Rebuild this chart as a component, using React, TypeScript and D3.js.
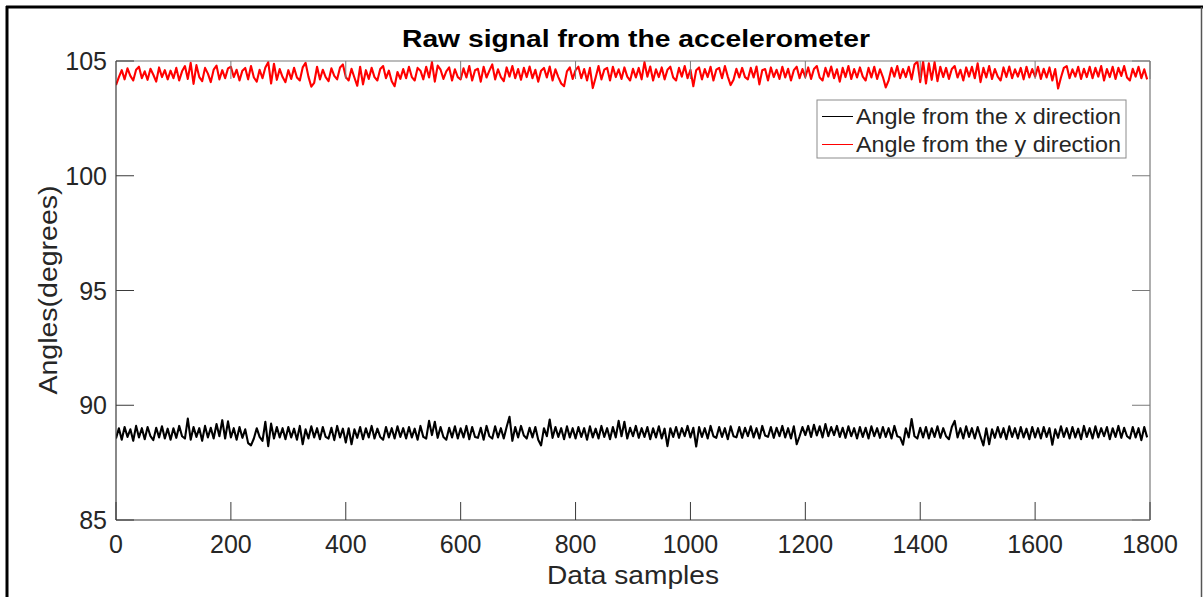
import React from "react";
import * as d3 from "d3";

const TITLE = "Raw signal from the accelerometer";
const X_LABEL = "Data samples";
const Y_LABEL = "Angles(degrees)";
const X_TICKS = [0, 200, 400, 600, 800, 1000, 1200, 1400, 1600, 1800];
const Y_TICKS = [85, 90, 95, 100, 105];
const SERIES_NAMES = ["Angle from the x direction", "Angle from the y direction"];
const SAMPLE_STEP = 5;

// Angle from the x direction (black), one value every 5 samples
const angleX = [
  88.55, 89.0, 88.5, 89.05, 88.62, 88.95, 88.45, 89.1, 88.6, 89.0, 88.52, 89.05, 88.65, 88.48, 89.02, 88.6, 89.08, 88.55, 88.98, 88.5,
  89.0, 88.58, 89.1, 88.65, 88.55, 89.42, 88.5, 89.05, 88.62, 89.0, 88.45, 89.1, 88.6, 89.02, 88.55, 89.18, 88.65, 89.35, 88.55, 89.3,
  88.6, 89.0, 88.5, 89.05, 88.58, 88.95, 88.35, 88.25, 88.55, 89.0, 88.62, 88.45, 89.28, 88.22, 89.2, 88.55, 89.05, 88.6, 89.0, 88.52,
  89.05, 88.6, 88.98, 88.5, 89.1, 88.3, 88.95, 88.55, 89.08, 88.6, 89.0, 88.52, 89.05, 88.62, 88.55, 89.02, 88.48, 89.1, 88.6, 88.98,
  88.38, 89.0, 88.3, 88.95, 88.58, 89.05, 88.52, 89.0, 88.6, 89.1, 88.55, 88.98, 88.62, 88.5, 89.05, 88.6, 89.0, 88.55, 89.08, 88.62,
  89.0, 88.55, 89.05, 88.6, 88.98, 88.5, 89.1, 88.62, 88.55, 89.32, 88.7, 89.28, 88.58, 89.05, 88.62, 88.5, 89.02, 88.6, 89.08, 88.55,
  89.0, 88.6, 89.1, 88.52, 89.05, 88.62, 88.58, 89.02, 88.5, 89.1, 88.65, 88.55, 89.08, 88.6, 89.0, 88.55, 89.05, 89.5, 88.45, 89.05,
  88.6, 89.1, 88.68, 88.55, 89.02, 88.6, 89.05, 88.5, 88.25, 89.0, 88.65, 89.38, 88.58, 89.05, 88.62, 89.0, 88.52, 89.08, 88.6, 89.0,
  88.55, 89.05, 88.62, 89.0, 88.5, 89.08, 88.6, 88.98, 88.55, 89.1, 88.62, 89.0, 88.52, 89.05, 88.6, 89.32, 88.65, 89.28, 88.55, 89.02,
  88.65, 89.1, 88.58, 89.0, 88.62, 89.05, 88.52, 89.0, 88.6, 89.08, 88.55, 88.98, 88.22, 89.0, 88.62, 89.05, 88.58, 89.0, 88.65, 89.1,
  88.6, 89.02, 88.2, 89.05, 88.62, 89.0, 88.55, 89.1, 88.65, 88.58, 89.05, 88.62, 89.0, 88.52, 89.08, 88.65, 88.6, 89.05, 88.58, 89.02,
  88.65, 89.08, 88.6, 89.0, 88.55, 89.1, 88.68, 88.62, 89.05, 88.58, 89.02, 88.65, 89.1, 88.6, 89.0, 88.55, 89.08, 88.3, 88.65, 89.05,
  88.7, 89.1, 88.62, 89.15, 88.68, 89.08, 88.6, 89.18, 88.65, 89.05, 88.7, 89.1, 88.62, 89.02, 88.58, 89.08, 88.65, 89.0, 88.55, 89.05,
  88.62, 89.02, 88.55, 89.08, 88.65, 89.0, 88.58, 89.05, 88.62, 89.0, 88.55, 89.1, 88.65, 88.6, 88.28, 89.0, 88.6, 89.4, 88.65, 88.55,
  89.02, 88.6, 89.05, 88.55, 89.0, 88.62, 89.08, 88.58, 89.0, 88.65, 88.52, 89.05, 89.32, 88.6, 89.0, 88.55, 89.08, 88.62, 89.0, 88.55,
  89.05, 88.62, 88.25, 89.0, 88.3, 88.95, 88.58, 89.05, 88.6, 89.0, 88.52, 89.08, 88.62, 89.0, 88.55, 89.05, 88.6, 88.98, 88.52, 89.05,
  88.6, 89.0, 88.55, 89.05, 88.62, 89.0, 88.28, 88.95, 88.58, 89.08, 88.62, 89.0, 88.55, 89.05, 88.6, 88.98, 88.52, 89.1, 88.62, 89.0,
  88.55, 89.08, 88.6, 89.0, 88.65, 89.05, 88.52, 89.0, 88.62, 89.1, 88.58, 89.02, 88.65, 88.55, 89.05, 88.6, 89.0, 88.48, 89.05, 88.6,
];

// Angle from the y direction (red), one value every 5 samples
const angleY = [
  103.95, 104.3, 104.6, 104.2, 104.68, 104.35, 104.15, 104.62, 104.75, 104.25, 104.55, 104.18, 104.66, 104.4, 104.1, 104.72, 104.3, 104.6, 104.2, 104.58,
  104.25, 104.7, 104.15, 104.55, 104.78, 104.22, 104.92, 104.0, 104.82, 104.3, 104.12, 104.7, 104.45, 104.08, 104.62, 104.8, 104.2, 104.6, 104.25, 104.68,
  104.75, 104.3, 104.62, 104.15, 104.58, 104.7, 104.2, 104.78, 104.28, 104.1, 104.62, 104.25, 104.72, 104.95, 104.02, 104.88, 104.18, 104.65, 104.3, 104.08,
  104.6, 104.22, 104.7, 104.28, 104.15, 104.72, 104.92, 104.32, 103.88, 104.05, 104.75, 104.2, 104.62, 104.3, 104.12, 104.68, 104.35, 104.2, 104.72, 104.85,
  104.3, 104.15, 104.66, 104.28, 103.92, 104.75, 103.98, 104.6, 104.22, 104.7, 104.3, 104.15, 104.65, 104.78, 104.25, 104.58, 104.12, 103.9, 104.52, 104.22,
  104.65, 104.25, 104.75, 104.3, 104.15, 104.7, 104.58, 104.2, 104.75, 104.28, 104.95, 104.1, 104.8, 104.62, 104.22, 104.55, 104.72, 104.15, 104.64, 104.3,
  104.2, 104.68, 104.28, 104.78, 104.15, 104.6, 104.66, 104.1, 104.75, 104.28, 104.58, 104.85, 104.2, 104.64, 104.3, 104.12, 104.72, 104.32, 104.78, 104.25,
  104.65, 104.18, 104.7, 104.3, 104.76, 104.25, 104.62, 104.1, 104.58, 104.7, 104.28, 104.76, 104.15, 104.64, 104.3, 104.02, 103.9, 104.55, 104.72, 104.22,
  104.6, 104.75, 104.25, 104.65, 104.15, 104.7, 103.82, 104.28, 104.78, 104.2, 104.62, 104.7, 104.15, 104.75, 104.3, 104.64, 104.22, 104.72, 104.32, 104.15,
  104.66, 104.28, 104.7, 104.2, 104.95, 104.32, 104.76, 104.15, 104.64, 104.3, 104.72, 104.2, 104.62, 104.75, 104.28, 104.15, 104.7, 104.32, 104.78, 104.25,
  104.62, 103.9, 104.6, 104.72, 104.2, 104.65, 104.3, 104.75, 104.15, 104.62, 104.7, 104.25, 104.78, 104.32, 103.95, 104.18, 104.66, 104.28, 104.7, 104.3,
  104.2, 104.7, 104.28, 104.76, 103.98, 104.6, 104.65, 104.15, 104.72, 104.3, 104.62, 104.22, 104.75, 104.28, 104.66, 104.15, 104.6, 104.75, 104.25, 104.65,
  104.3, 104.72, 104.22, 104.65, 104.78, 104.28, 104.15, 104.7, 104.32, 104.76, 104.25, 104.64, 104.1, 104.7, 104.3, 104.78, 104.22, 104.65, 104.28, 104.72,
  104.32, 104.15, 104.7, 104.28, 104.75, 104.22, 104.64, 104.3, 103.85, 104.15, 104.7, 104.32, 104.78, 104.25, 104.65, 104.3, 104.75, 104.2, 104.85, 104.98,
  104.08, 104.98, 104.02, 104.9, 104.18, 104.95, 104.12, 104.75, 104.3, 104.7, 104.22, 104.65, 104.78, 104.28, 104.62, 104.15, 104.72, 104.32, 104.75, 104.25,
  104.9, 104.08, 104.7, 104.28, 104.78, 104.22, 104.65, 104.32, 104.15, 104.72, 104.3, 104.76, 104.25, 104.64, 104.32, 104.7, 104.2, 104.75, 104.28, 104.65,
  104.32, 104.75, 104.22, 104.66, 104.28, 104.72, 104.15, 104.65, 103.8, 104.28, 104.7, 104.78, 104.25, 104.64, 104.32, 104.75, 104.22, 104.66, 104.3, 104.75,
  104.25, 104.7, 104.32, 104.78, 104.15, 104.65, 104.3, 104.75, 104.22, 104.7, 104.35, 104.78, 104.28, 104.15, 104.66, 104.32, 104.75, 104.25, 104.64, 104.2,
];

const SERIES = [
  { name: SERIES_NAMES[0], values: angleX, color: "#000000" },
  { name: SERIES_NAMES[1], values: angleY, color: "#ff0000" },
];

const FONT = "'Liberation Sans', Arial, Helvetica, sans-serif";
const TEXT = "#262626";
const AXIS_DARK = "#3a3a3a";
const AXIS_LIGHT = "#7a7a7a";

export default function App() {
  const W = 1203;
  const H = 597;
  const left = 116, right = 1150, top = 61, bottom = 520;
  const x = d3.scaleLinear().domain([0, 1800]).range([left, right]);
  const y = d3.scaleLinear().domain([85, 105]).range([bottom, top]);
  const line = d3
    .line<number>()
    .x((_, i) => x(i * SAMPLE_STEP))
    .y((d) => y(d));
  const tickLen = 18;

  const legendX = 817, legendY = 100, legendW = 309, legendH = 58;

  return (
    <div style={{ position: "absolute", left: 0, top: 0, width: W, height: H, background: "#fff" }}>
      <svg width={W} height={H} style={{ display: "block", fontFamily: FONT }}>
        <rect x={0} y={0} width={W} height={H} fill="#fff" />
        {/* outer frame */}
        <line x1={6} x2={W} y1={7} y2={7} stroke="#000" strokeWidth={3} />
        <line x1={7} x2={7} y1={6} y2={H} stroke="#000" strokeWidth={3} />
        <line x1={1201.5} x2={1201.5} y1={7} y2={H} stroke="#555" strokeWidth={1.5} />

        {/* title */}
        <text x={636} y={47} textAnchor="middle" fontSize={23} fontWeight="bold" fill="#000" textLength={468} lengthAdjust="spacingAndGlyphs">
          {TITLE}
        </text>

        <defs>
          <clipPath id="plotclip">
            <rect x={left} y={top} width={right - left} height={bottom - top} />
          </clipPath>
        </defs>

        {/* data lines */}
        <g clipPath="url(#plotclip)">
          {SERIES.map((s) => (
            <path key={s.name} d={line(s.values) || ""} fill="none" stroke={s.color} strokeWidth={2.1} strokeLinejoin="round" />
          ))}
        </g>

        {/* box */}
        <line x1={left} x2={right} y1={top} y2={top} stroke={AXIS_LIGHT} strokeWidth={1.2} />
        <line x1={right} x2={right} y1={top} y2={bottom} stroke={AXIS_LIGHT} strokeWidth={1.2} />
        <line x1={left} x2={right} y1={bottom} y2={bottom} stroke={AXIS_DARK} strokeWidth={1.2} />
        <line x1={left} x2={left} y1={top} y2={bottom} stroke={AXIS_DARK} strokeWidth={1.2} />

        {/* x ticks */}
        {X_TICKS.map((t) => (
          <g key={"xt" + t}>
            <line x1={x(t)} x2={x(t)} y1={bottom} y2={bottom - tickLen} stroke={AXIS_DARK} strokeWidth={1} />
            <line x1={x(t)} x2={x(t)} y1={top} y2={top + tickLen} stroke={AXIS_LIGHT} strokeWidth={1} />
            <text x={x(t)} y={553} textAnchor="middle" fontSize={25} fill={TEXT}>
              {t}
            </text>
          </g>
        ))}

        {/* y ticks */}
        {Y_TICKS.map((t) => (
          <g key={"yt" + t}>
            <line x1={left} x2={left + tickLen} y1={y(t)} y2={y(t)} stroke={AXIS_DARK} strokeWidth={1} />
            <line x1={right} x2={right - tickLen} y1={y(t)} y2={y(t)} stroke={AXIS_LIGHT} strokeWidth={1} />
            <text x={107} y={y(t) + 9} textAnchor="end" fontSize={25} fill={TEXT}>
              {t}
            </text>
          </g>
        ))}

        {/* axis labels */}
        <text x={633} y={584} textAnchor="middle" fontSize={25} fill={TEXT} textLength={172} lengthAdjust="spacingAndGlyphs">
          {X_LABEL}
        </text>
        <text transform="translate(57,290) rotate(-90)" textAnchor="middle" fontSize={26} fill={TEXT} textLength={209} lengthAdjust="spacingAndGlyphs">
          {Y_LABEL}
        </text>

        {/* legend */}
        <rect x={legendX} y={legendY} width={legendW} height={legendH} fill="#fff" stroke="#8c8c8c" strokeWidth={1} />
        {SERIES.map((s, i) => {
          const ly = 116.5 + i * 28;
          return (
            <g key={"lg" + s.name}>
              <line x1={822} x2={853} y1={ly} y2={ly} stroke={s.color} strokeWidth={1} />
              <text x={856} y={ly + 7.5} fontSize={21.5} fill={TEXT} textLength={265} lengthAdjust="spacingAndGlyphs">
                {s.name}
              </text>
            </g>
          );
        })}
      </svg>
    </div>
  );
}
